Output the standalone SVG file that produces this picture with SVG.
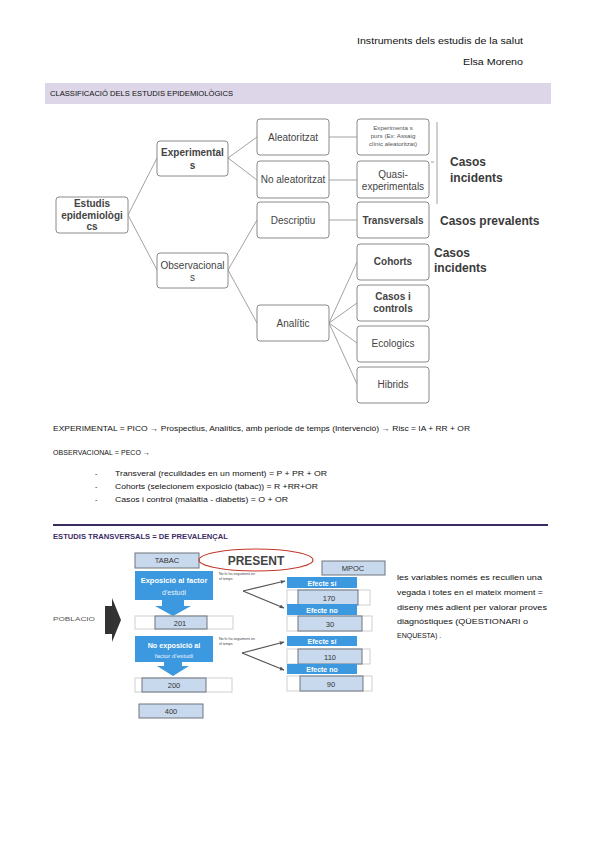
<svg xmlns="http://www.w3.org/2000/svg" width="596" height="848" viewBox="0 0 596 848">
<defs>
<style>
.doc{font-family:"Liberation Sans",Arial,sans-serif;fill:#111}
.node rect{fill:#fff;stroke:#8a8a8a;stroke-width:1}
.nt{font-family:"Liberation Sans",Arial,sans-serif;font-size:10px;fill:#444;text-anchor:middle}
.sm{font-family:"Liberation Sans",Arial,sans-serif;font-size:6.2px;fill:#555;text-anchor:middle}
.b{font-weight:bold}
.lab{font-family:"Liberation Sans",Arial,sans-serif;font-size:12px;font-weight:bold;fill:#3a3a3a}
.conn line{stroke:#8a8a8a;stroke-width:0.8}
.fork line{stroke:#555;stroke-width:1.2;marker-end:url(#ah)}
.lb{fill:#c8d9ee;stroke:#6f757c;stroke-width:1}
.wb{fill:#fff;stroke:#cfcfcf;stroke-width:1}
.blue{fill:#3c98df}
.wt{fill:#fff;font-family:"Liberation Sans",Arial,sans-serif;font-weight:bold;text-anchor:middle}
.wn{fill:#eaf3fb;font-family:"Liberation Sans",Arial,sans-serif;font-weight:normal;text-anchor:middle}
.num{font-family:"Liberation Sans",Arial,sans-serif;font-size:7.5px;fill:#333;text-anchor:middle}
.tiny{font-family:"Liberation Sans",Arial,sans-serif;font-size:3.6px;fill:#444}
</style>
<marker id="ah" viewBox="0 0 10 10" refX="9" refY="5" markerWidth="4" markerHeight="4" orient="auto">
<path d="M0,1 L10,5 L0,9 z" fill="#555"/>
</marker>
</defs>
<rect width="596" height="848" fill="#fff"/>

<g id="header">
<text class="doc" x="523" y="44" font-size="9" text-anchor="end" textLength="166" lengthAdjust="spacingAndGlyphs">Instruments dels estudis de la salut</text>
<text class="doc" x="523" y="65" font-size="9" text-anchor="end" textLength="60" lengthAdjust="spacingAndGlyphs">Elsa Moreno</text>
</g>

<g id="band1">
<rect x="45" y="83" width="506" height="21" fill="#dcd6e8"/>
<text class="doc" x="50" y="96" font-size="6.5" textLength="183" lengthAdjust="spacingAndGlyphs">CLASSIFICACIÓ DELS ESTUDIS EPIDEMIOLÒGICS</text>
</g>

<g class="conn" id="connectors">
<line x1="128" y1="215" x2="157" y2="158"/>
<line x1="128" y1="215" x2="157" y2="270"/>
<line x1="228" y1="158" x2="257" y2="137"/>
<line x1="228" y1="158" x2="257" y2="180"/>
<line x1="228" y1="270" x2="257" y2="220"/>
<line x1="228" y1="270" x2="257" y2="323"/>
<line x1="329" y1="137" x2="357" y2="137"/>
<line x1="329" y1="180" x2="357" y2="180"/>
<line x1="329" y1="220" x2="357" y2="220"/>
<line x1="329" y1="323" x2="357" y2="262"/>
<line x1="329" y1="323" x2="357" y2="303"/>
<line x1="329" y1="323" x2="357" y2="343"/>
<line x1="329" y1="323" x2="357" y2="384"/>
<line x1="437" y1="122" x2="437" y2="204"/>
<line x1="431" y1="162" x2="434" y2="162"/>
</g>

<g class="node" id="n-estudis">
<rect x="56" y="197" width="72" height="36" rx="3"/>
<text class="nt b" x="92" y="207">Estudis</text>
<text class="nt b" x="92" y="218.5">epidemiològi</text>
<text class="nt b" x="92" y="230">cs</text>
</g>
<g class="node" id="n-experimentals">
<rect x="157" y="141" width="71" height="35" rx="3"/>
<text class="nt b" x="192.5" y="156">Experimental</text>
<text class="nt b" x="192.5" y="168.5">s</text>
</g>
<g class="node" id="n-observacionals">
<rect x="157" y="253" width="71" height="35" rx="3"/>
<text class="nt" x="192.5" y="268.5">Observacional</text>
<text class="nt" x="192.5" y="281">s</text>
</g>
<g class="node" id="n-aleatoritzat">
<rect x="257" y="119" width="72" height="36" rx="3"/>
<text class="nt" x="293" y="140.5">Aleatoritzat</text>
</g>
<g class="node" id="n-noaleatoritzat">
<rect x="257" y="161" width="72" height="37" rx="3"/>
<text class="nt" x="293" y="183">No aleatoritzat</text>
</g>
<g class="node" id="n-descriptiu">
<rect x="257" y="202" width="72" height="36" rx="3"/>
<text class="nt" x="293" y="223.5">Descriptiu</text>
</g>
<g class="node" id="n-analitic">
<rect x="257" y="305" width="72" height="36" rx="3"/>
<text class="nt" x="293" y="326.5">Analític</text>
</g>
<g class="node" id="n-purs">
<rect x="357" y="119" width="72" height="36" rx="3"/>
<text class="sm" x="393" y="130">Experimenta s</text>
<text class="sm" x="393" y="138">purs (Ex: Assaig</text>
<text class="sm" x="393" y="146">clínic aleatoritzat)</text>
</g>
<g class="node" id="n-quasi">
<rect x="357" y="161" width="72" height="37" rx="3"/>
<text class="nt" x="393" y="178">Quasi-</text>
<text class="nt" x="393" y="190">experimentals</text>
</g>
<g class="node" id="n-transversals">
<rect x="357" y="202" width="72" height="36" rx="3"/>
<text class="nt b" x="393" y="223.5">Transversals</text>
</g>
<g class="node" id="n-cohorts">
<rect x="357" y="244" width="72" height="36" rx="3"/>
<text class="nt b" x="393" y="265">Cohorts</text>
</g>
<g class="node" id="n-casoscontrols">
<rect x="357" y="285" width="72" height="36" rx="3"/>
<text class="nt b" x="393" y="300">Casos i</text>
<text class="nt b" x="393" y="311.5">controls</text>
</g>
<g class="node" id="n-ecologics">
<rect x="357" y="326" width="72" height="36" rx="3"/>
<text class="nt" x="393" y="347">Ecologics</text>
</g>
<g class="node" id="n-hibrids">
<rect x="357" y="367" width="72" height="36" rx="3"/>
<text class="nt" x="393" y="388">Hibrids</text>
</g>

<g id="labels">
<text class="lab" x="450" y="166">Casos</text>
<text class="lab" x="450" y="182">incidents</text>
<text class="lab" x="440" y="225">Casos prevalents</text>
<text class="lab" x="434" y="257">Casos</text>
<text class="lab" x="434" y="272">incidents</text>
</g>

<g id="notes">
<text class="doc" x="53" y="430.5" font-size="7" textLength="417" lengthAdjust="spacingAndGlyphs">EXPERIMENTAL = PICO → Prospectius, Analítics, amb periode de temps (Intervenció) → Risc = IA + RR + OR</text>
<text class="doc" x="53" y="454.5" font-size="7" textLength="97" lengthAdjust="spacing">OBSERVACIONAL = PECO →</text>
<text class="doc" x="95" y="475.5" font-size="7">-</text>
<text class="doc" x="115" y="475.5" font-size="7" textLength="212" lengthAdjust="spacingAndGlyphs">Transveral (reculldades en un moment) = P + PR + OR</text>
<text class="doc" x="95" y="488.5" font-size="7">-</text>
<text class="doc" x="115" y="488.5" font-size="7" textLength="203" lengthAdjust="spacingAndGlyphs">Cohorts (selecionem exposició (tabac)) = R +RR+OR</text>
<text class="doc" x="95" y="502" font-size="7">-</text>
<text class="doc" x="115" y="502" font-size="7" textLength="173" lengthAdjust="spacingAndGlyphs">Casos i control (malaltia - diabetis) = O + OR</text>
</g>

<g id="band2">
<line x1="53" y1="525" x2="548" y2="525" stroke="#3b2a5e" stroke-width="2"/>
<text x="53" y="539" font-family="'Liberation Sans',Arial,sans-serif" font-size="6.8" font-weight="bold" fill="#3d2d66" textLength="175" lengthAdjust="spacingAndGlyphs">ESTUDIS TRANSVERSALS = DE PREVALENÇAL</text>
</g>

<g id="poblacio">
<text x="53" y="621" font-family="'Liberation Sans',Arial,sans-serif" font-size="6" fill="#555" textLength="42" lengthAdjust="spacingAndGlyphs">POBLACIO</text>
<polygon points="105,606 112,606 112,598 121,620 112,642 112,634 105,634" fill="#333"/>
</g>

<g id="tabac">
<rect class="lb" x="135" y="553" width="64" height="15"/>
<text class="num" x="167" y="563">TABAC</text>
</g>
<g id="present">
<ellipse cx="256" cy="560" rx="57" ry="11" fill="none" stroke="#c0392b" stroke-width="1.2"/>
<text x="256" y="565" font-family="'Liberation Sans',Arial,sans-serif" font-size="12" font-weight="bold" fill="#444" text-anchor="middle">PRESENT</text>
</g>
<g id="mpoc">
<rect class="lb" x="322" y="561" width="63" height="14"/>
<text class="num" x="353" y="571">MPOC</text>
</g>

<g id="exposicio">
<rect class="blue" x="135" y="571" width="78" height="29"/>
<text class="wt" x="174" y="583" font-size="7.5">Exposició al factor</text>
<text class="wn" x="174" y="595" font-size="7">d'estudi</text>
<polygon class="blue" points="162,600 184,600 184,606 191,606 173,616 155,606 162,606"/>
</g>
<g id="r201">
<rect class="wb" x="135" y="616" width="98" height="13"/>
<rect class="lb" x="155" y="616" width="52" height="13"/>
<text class="num" x="180" y="625.5">201</text>
</g>

<g id="noexposicio">
<rect class="blue" x="135" y="636" width="78" height="26"/>
<text class="wt" x="174" y="648" font-size="7.2">No exposició al</text>
<text class="wn" x="174" y="657.5" font-size="6.2">factor d'estudi</text>
<polygon class="blue" points="164,662 182,662 182,666 189,666 173,676 157,666 164,666"/>
</g>
<g id="r200">
<rect class="wb" x="135" y="678" width="97" height="14"/>
<rect class="lb" x="142" y="678" width="64" height="14"/>
<text class="num" x="174" y="688">200</text>
</g>
<g id="r400">
<rect class="lb" x="139" y="704" width="64" height="14"/>
<text class="num" x="171" y="714">400</text>
</g>

<g id="efecte1">
<rect class="blue" x="287" y="577" width="70" height="11"/>
<text class="wt" x="322" y="585.5" font-size="7">Efecte sí</text>
<rect class="wb" x="287" y="590" width="83" height="15"/>
<rect class="lb" x="298" y="590" width="60" height="15"/>
<text class="num" x="329" y="600.5">170</text>
<rect class="blue" x="287" y="604" width="70" height="11"/>
<text class="wt" x="322" y="612.5" font-size="7">Efecte no</text>
<rect class="wb" x="287" y="616" width="85" height="15"/>
<rect class="lb" x="298" y="616" width="64" height="15"/>
<text class="num" x="330" y="626.5">30</text>
</g>
<g id="efecte2">
<rect class="blue" x="287" y="636" width="70" height="10"/>
<text class="wt" x="322" y="644" font-size="7">Efecte sí</text>
<rect class="wb" x="287" y="649" width="83" height="15"/>
<rect class="lb" x="298" y="649" width="64" height="15"/>
<text class="num" x="330" y="659.5">110</text>
<rect class="blue" x="287" y="664" width="70" height="10"/>
<text class="wt" x="322" y="672" font-size="7">Efecte no</text>
<rect class="wb" x="287" y="676" width="85" height="15"/>
<rect class="lb" x="300" y="676" width="63" height="15"/>
<text class="num" x="331" y="686.5">90</text>
</g>

<g class="fork" id="forks">
<line x1="243" y1="591" x2="285" y2="581"/>
<line x1="243" y1="591" x2="284" y2="608"/>
<line x1="242" y1="653" x2="284" y2="642"/>
<line x1="242" y1="653" x2="284" y2="670"/>
</g>
<g id="tinylabels">
<text class="tiny" x="219" y="575">No hi ha seguiment en</text>
<text class="tiny" x="219" y="580">el temps</text>
<text class="tiny" x="219" y="640">No hi ha seguiment en</text>
<text class="tiny" x="219" y="645">el temps</text>
</g>

<g id="paragraph">
<text class="doc" x="397" y="580" font-size="7" textLength="145" lengthAdjust="spacingAndGlyphs">les variables només es recullen una</text>
<text class="doc" x="397" y="595" font-size="7" textLength="146" lengthAdjust="spacingAndGlyphs">vegada i totes en el mateix moment =</text>
<text class="doc" x="397" y="610" font-size="7" textLength="150" lengthAdjust="spacingAndGlyphs">diseny més adient per valorar proves</text>
<text class="doc" x="397" y="624" font-size="7" textLength="131" lengthAdjust="spacingAndGlyphs">diagnóstiques (QÜESTIONARI o</text>
<text class="doc" x="397" y="638" font-size="7">ENQUESTA) .</text>
</g>
</svg>
